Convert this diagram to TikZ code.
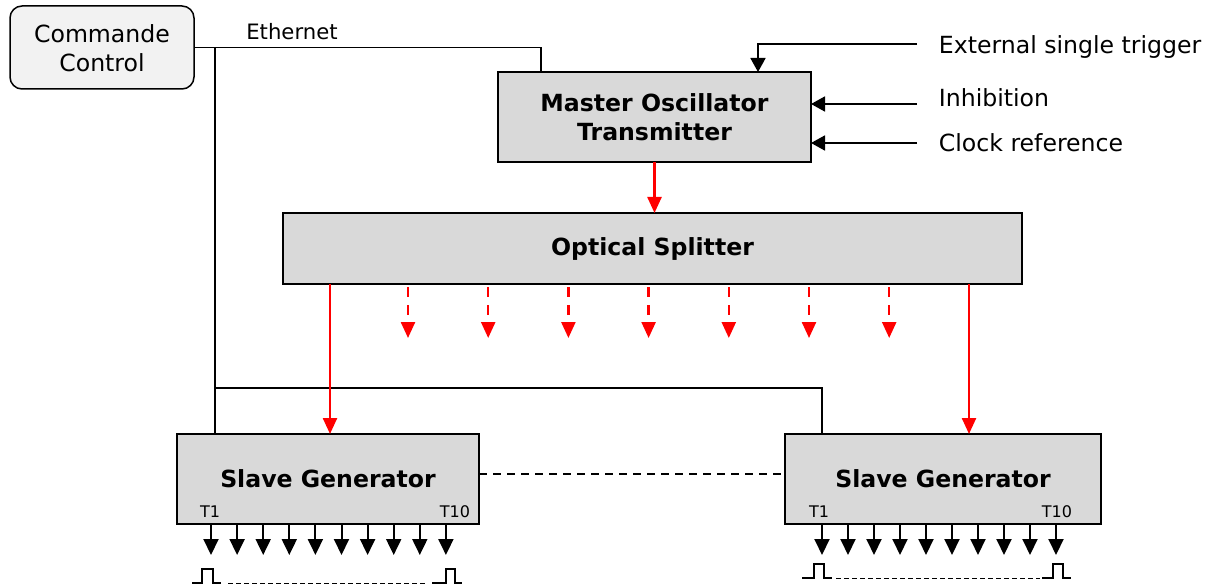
\documentclass[tikz,border=0pt]{standalone}
\usepackage{fontspec}
\setmainfont{DejaVu Sans}
\usetikzlibrary{arrows.meta,calc}
\definecolor{boxgray}{HTML}{D9D9D9}
\definecolor{cmdgray}{HTML}{F2F2F2}

\begin{document}
\begin{tikzpicture}[x=0.5pt,y=-0.5pt,line width=0.9pt,
                    >={Triangle[length=7pt,width=7.5pt]}]
  \tikzstyle{block}=[draw,fill=boxgray,inner sep=0pt,outer sep=0pt,align=center,
                     line width=0.75pt,font=\bfseries\fontsize{11.8}{14.5}\selectfont]
  \tikzstyle{lbl}=[inner sep=0pt,anchor=west,font=\fontsize{11.8}{14.5}\selectfont]
  \tikzstyle{redline}=[draw=red,line width=1.2pt,->,>={Triangle[length=8pt,width=7pt]}]
  \tikzstyle{outarrow}=[line width=1pt,->,>={Triangle[length=8pt,width=7.5pt]}]
  \tikzstyle{pulse}=[line width=1pt]
  \tikzstyle{tlbl}=[inner sep=0pt,font=\fontsize{8}{9}\selectfont]

  \useasboundingbox (0,0) rectangle (1215,588);

  \node[draw,fill=cmdgray,rounded corners=6pt,minimum width=92pt,minimum height=41.5pt,
        inner sep=0pt,outer sep=0pt,line width=0.75pt,
        font=\fontsize{11.8}{14.5}\selectfont]
        (cmd) at (102,47.5) {\raisebox{-2pt}[\height][\depth]{\begin{tabular}{@{}c@{}}Commande\\Control\end{tabular}}};
  \node[block,minimum width=156.5pt,minimum height=45pt] (mot) at (654.5,117) {Master Oscillator\\Transmitter};
  \node[block,minimum width=369.5pt,minimum height=35.5pt] (spl) at (652.5,248.5) {Optical Splitter};
  \node[block,minimum width=151pt,minimum height=45pt] (sg1) at (328,479) {Slave Generator};
  \node[block,minimum width=158pt,minimum height=45pt] (sg2) at (943,479) {Slave Generator};

  \node[tlbl] (t1a) at (210,512) {T1};
  \node[tlbl] (t10a) at (455,512) {T10};
  \node[tlbl] (t1b) at (819,512) {T1};
  \node[tlbl] (t10b) at (1057,512) {T10};

  \node[lbl] (trig) at (938,47) {External single trigger};
  \node[lbl] (inh) at (938,98) {Inhibition};
  \node[lbl] (clk) at (938,143) {Clock reference};

  % ethernet links
  \draw (cmd.east) -| ($(mot.north west)+(43,0)$);
  \node[inner sep=0pt,font=\fontsize{10.6}{12}\selectfont] (eth) at (292,32) {Ethernet};
  \coordinate (bus) at ($(cmd.east)+(21,0)$);
  \draw (bus) -- (bus |- sg1.north);
  \draw ($(bus |- sg1.north)+(0,-46)$) -| ($(sg2.north west)+(37,0)$);

  % inputs
  \draw[->] ($(trig.west)+(-21,-3)$) -| ($(mot.north west)+(260,0)$);
  \draw[->] ($(inh.west)+(-21,6)$) -- ($(mot.north east)+(0,32)$);
  \draw[->] ($(clk.west)+(-21,0)$) -- ($(mot.north east)+(0,71)$);

  % optical fibres
  \draw[redline] (mot.south) -- (mot.south |- spl.north);
  \draw[redline] ($(spl.south west)+(47,0)$) -- ($(sg1.north west)+(153,0)$);
  \draw[redline] ($(spl.south west)+(686,0)$) -- ($(sg2.north west)+(184,0)$);
  \foreach \i in {0,...,6}
    \draw[redline,dash pattern=on 5pt off 4pt] ($(spl.south west)+(125+80.2*\i,3)$) -- ++(0,51);

  \draw[dash pattern=on 4pt off 3pt] ($(sg1.east)+(0,-5)$) -- ($(sg2.west)+(0,-5)$);

  % outputs
  \foreach \i in {0,...,9}{
    \draw[outarrow] ($(sg1.south west)+(34+26.1*\i,0)$) -- ++(0,31);
    \draw[outarrow] ($(sg2.south west)+(37+26*\i,0)$) -- ++(0,31);
  }

  % pulses
  \draw[pulse] ($(sg1.south west)+(15,59)$) -- ++(10,0) -- ++(0,-14) -- ++(11,0) -- ++(0,14) -- ++(8,0);
  \draw[pulse] ($(sg1.south west)+(255,59)$) -- ++(14,0) -- ++(0,-14) -- ++(9,0) -- ++(0,14) -- ++(7,0);
  \draw[line width=0.5pt,dash pattern=on 2.5pt off 1.5pt] ($(sg1.south west)+(51,59)$) -- ++(200,0);
  \draw[pulse] ($(sg2.south west)+(17,54)$) -- ++(12,0) -- ++(0,-14) -- ++(10,0) -- ++(0,14) -- ++(8,0);
  \draw[pulse] ($(sg2.south west)+(257,54)$) -- ++(11,0) -- ++(0,-14) -- ++(10,0) -- ++(0,14) -- ++(8,0);
  \draw[line width=0.5pt,dash pattern=on 2.5pt off 1.5pt] ($(sg2.south west)+(51,54)$) -- ++(204,0);
\end{tikzpicture}
\end{document}
